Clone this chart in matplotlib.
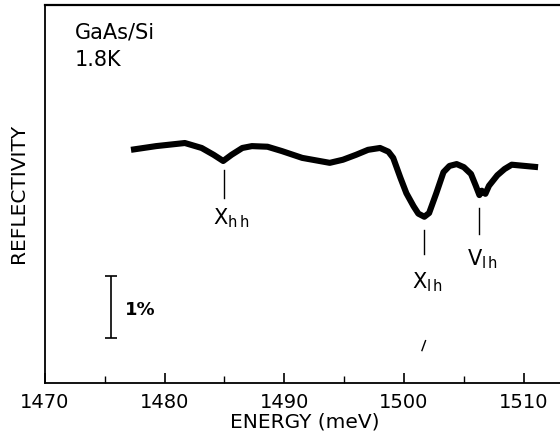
import matplotlib
matplotlib.use("Agg")
import matplotlib.pyplot as plt
from matplotlib.ticker import MultipleLocator

# reflectivity trace (energy in meV, reflectivity in %)
energy = [1477.2, 1479.3, 1481.7, 1483.1, 1484.1, 1484.9, 1485.6, 1486.5, 1487.3,
          1488.6, 1489.8, 1491.5, 1493.8, 1494.9, 1496.0, 1497.0, 1498.0, 1498.7,
          1499.1, 1499.7, 1500.2, 1500.8, 1501.2, 1501.7, 1502.1, 1502.7, 1503.3,
          1503.8, 1504.4, 1505.0, 1505.6, 1506.0, 1506.3, 1506.5, 1506.8, 1507.1,
          1507.8, 1508.4, 1509.0, 1510.1, 1511.2]
refl = [3.76, 3.82, 3.87, 3.79, 3.68, 3.58, 3.68, 3.79, 3.82,
        3.81, 3.74, 3.63, 3.55, 3.60, 3.68, 3.76, 3.79, 3.73,
        3.63, 3.31, 3.06, 2.85, 2.73, 2.68, 2.74, 3.06, 3.40,
        3.50, 3.53, 3.48, 3.37, 3.18, 3.03, 3.10, 3.05, 3.18,
        3.35, 3.45, 3.52, 3.50, 3.48]

# marked transitions: label, energy, line bottom/top, label position
marks = [("X$_\\mathregular{h\\,h}$", 1484.95, 2.99, 3.43, 1485.6, 2.65),
         ("X$_\\mathregular{l\\,h}$", 1501.7, 2.08, 2.46, 1502.0, 1.63),
         ("V$_\\mathregular{l\\,h}$", 1506.3, 2.40, 2.82, 1506.6, 2.00)]

plt.rcParams["font.family"] = ["DejaVu Sans"]
plt.rcParams["mathtext.fontset"] = "dejavusans"

fig = plt.figure(figsize=(5.6, 4.4), dpi=100)
ax = fig.add_axes([0.080, 0.130, 0.930, 0.859])

ax.plot(energy, refl, color="black", lw=4.4, solid_capstyle="butt",
        solid_joinstyle="round")

for label, e, y0, y1, tx, ty in marks:
    ax.plot([e, e], [y0, y1], color="black", lw=1.0)
    ax.text(tx, ty, label, fontsize=15, ha="center", va="center")

# 1% scale bar
ax.errorbar([1475.5], [1.226], yerr=[0.5], color="black", lw=1.2,
            capsize=4.5, capthick=1.2)
ax.text(1476.7, 1.18, "1%", fontsize=13, fontweight="bold", va="center")

# small stray mark below X_lh
ax.plot([1501.5, 1501.8], [0.52, 0.68], color="black", lw=1.0)

ax.text(1472.5, 5.66, "GaAs/Si", fontsize=15, va="center")
ax.text(1472.5, 5.21, "1.8K", fontsize=15, va="center")

ax.set_xlim(1470, 1513.5)
ax.set_ylim(0, 6.1)
ax.xaxis.set_major_locator(MultipleLocator(10))
ax.xaxis.set_minor_locator(MultipleLocator(5))
ax.tick_params(axis="x", which="major", direction="in", length=7, width=1.2,
               labelsize=14, pad=7)
ax.tick_params(axis="x", which="minor", direction="in", length=5, width=1.0)
ax.set_yticks([])
ax.spines["right"].set_visible(False)
ax.spines["top"].set_linewidth(1.6)
ax.spines["left"].set_linewidth(1.3)
ax.spines["bottom"].set_linewidth(1.3)

ax.set_xlabel("ENERGY (meV)", fontsize=14.5, labelpad=1)
ax.set_ylabel("REFLECTIVITY", fontsize=14.5, labelpad=12)

fig.savefig("out.png", dpi=100)
